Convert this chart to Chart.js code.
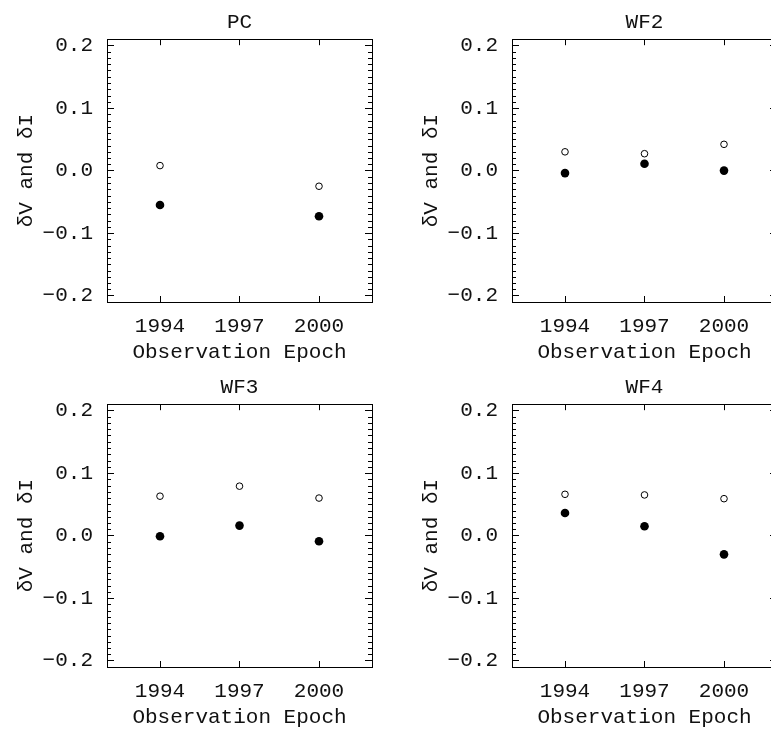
<!DOCTYPE html>
<html>
<head>
<meta charset="utf-8">
<title>δV and δI by observation epoch</title>
<script src="https://cdn.jsdelivr.net/npm/chart.js@4.4.1/dist/chart.umd.min.js"></script>
<style>
  html, body { margin: 0; padding: 0; background: #fff; overflow: hidden; }
  #page { position: relative; width: 771px; height: 731px; overflow: hidden; background: #fff; }
  #page canvas { position: absolute; }
</style>
</head>
<body>
<div id="page">
  <canvas id="chart-pc"  width="400" height="365" style="left:0;top:0"></canvas>
  <canvas id="chart-wf2" width="400" height="365" style="left:405px;top:0"></canvas>
  <canvas id="chart-wf3" width="400" height="365" style="left:0;top:365px"></canvas>
  <canvas id="chart-wf4" width="400" height="365" style="left:405px;top:365px"></canvas>
</div>
<script>
/* ════════════════════════════════════════════════════════════
   Four panels: δV (open) and δI (filled) per observation epoch
   ════════════════════════════════════════════════════════════ */

const epochs = [1994, 1997, 2000];
const epochTicks = [1994, 1997, 2000];
const deltaTicks = [-0.2, -0.1, 0.0, 0.1, 0.2];

// PC has no 1997 epoch
const pcOpen    = [0.008, null, -0.025];
const pcFilled  = [-0.055, null, -0.073];
const wf2Open   = [0.030, 0.027, 0.042];
const wf2Filled = [-0.004, 0.011, 0.000];
const wf3Open   = [0.063, 0.079, 0.060];
const wf3Filled = [-0.001, 0.016, -0.009];
const wf4Open   = [0.066, 0.065, 0.059];
const wf4Filled = [0.036, 0.015, -0.030];

const FONT = "'Liberation Mono', 'Courier New', monospace";
Chart.defaults.font.family = FONT;
Chart.defaults.font.size = 21;
Chart.defaults.color = '#111';

// small inward minor ticks on the y axis, ten per major interval
const minorTicks = {
    id: 'minorTicks',
    afterDraw(chart) {
        const { ctx, chartArea, scales } = chart;
        const y = scales.y;
        ctx.save();
        ctx.strokeStyle = '#000';
        ctx.lineWidth = 1;
        ctx.beginPath();
        for (let i = 0; i < deltaTicks.length - 1; i++) {
            const step = (deltaTicks[i + 1] - deltaTicks[i]) / 10;
            for (let k = 1; k < 10; k++) {
                const py = Math.round(y.getPixelForValue(deltaTicks[i] + step * k)) + 0.5;
                ctx.moveTo(chartArea.left, py);
                ctx.lineTo(chartArea.left + 4, py);
                ctx.moveTo(chartArea.right, py);
                ctx.lineTo(chartArea.right - 4, py);
            }
        }
        ctx.stroke();
        ctx.restore();
    }
};

function fmtDelta(v) {
    return (v < 0 ? '\u2212' : '') + Math.abs(v).toFixed(1);
}

function inwardGrid(len) {
    return {
        drawOnChartArea: false,
        drawTicks: true,
        tickLength: -len,
        tickColor: '#000',
        tickWidth: 1
    };
}

const border = { display: true, color: '#000', width: 1 };

function buildPanel(canvasId, title, openVals, filledVals) {
    const canvasEl = document.getElementById(canvasId);
    if (!canvasEl) return;
    const toPoints = vals => epochs.map((x, i) => ({ x: x, y: vals[i] }));
    const setEpochTicks = s => { s.ticks = epochTicks.map(v => ({ value: v })); };
    const setDeltaTicks = s => { s.ticks = deltaTicks.map(v => ({ value: v })); };

    return new Chart(canvasEl.getContext('2d'), {
        type: 'scatter',
        data: {
            datasets: [{
                label: 'δV',
                data: toPoints(openVals),
                pointRadius: 3.3,
                pointBackgroundColor: 'rgba(0,0,0,0)',
                pointBorderColor: '#000',
                pointBorderWidth: 1
            }, {
                label: 'δI',
                data: toPoints(filledVals),
                pointRadius: 4.3,
                pointBackgroundColor: '#000',
                pointBorderColor: '#000',
                pointBorderWidth: 0
            }]
        },
        options: {
            responsive: false,
            animation: false,
            devicePixelRatio: 1,
            layout: { padding: { left: 0, right: 28, top: 0, bottom: 0 } },
            plugins: {
                legend: { display: false },
                tooltip: { enabled: false },
                title: {
                    display: true,
                    fullSize: false,   // centre over the plot box, not the canvas
                    text: title,
                    color: '#111',
                    font: { family: FONT, size: 21, weight: 'normal' },
                    padding: { top: 10, bottom: 4 }
                }
            },
            scales: {
                x: {
                    type: 'linear',
                    position: 'bottom',
                    min: 1992,
                    max: 2002,
                    afterBuildTicks: setEpochTicks,
                    afterFit: s => { s.height = 63; s.paddingLeft = 0; s.paddingRight = 0; },
                    ticks: { padding: 18, maxRotation: 0, autoSkip: false, callback: v => String(v) },
                    grid: inwardGrid(6),
                    border: border,
                    title: {
                        display: true,
                        text: 'Observation Epoch',
                        padding: { top: 0, bottom: 0 }
                    }
                },
                x2: {
                    type: 'linear',
                    position: 'top',
                    min: 1992,
                    max: 2002,
                    afterBuildTicks: setEpochTicks,
                    afterFit: s => { s.height = 0; s.paddingLeft = 0; s.paddingRight = 0; },
                    ticks: { display: false },
                    grid: inwardGrid(6),
                    border: border
                },
                y: {
                    type: 'linear',
                    position: 'left',
                    min: -0.21,
                    max: 0.21,
                    afterBuildTicks: setDeltaTicks,
                    afterFit: s => { s.width = 107; s.paddingTop = 0; s.paddingBottom = 0; },
                    ticks: { padding: 21, autoSkip: false, callback: v => fmtDelta(v) },
                    grid: inwardGrid(7),
                    border: border,
                    title: {
                        display: true,
                        text: 'δV and δI',
                        padding: { top: 14, bottom: 0 }
                    }
                },
                y2: {
                    type: 'linear',
                    position: 'right',
                    min: -0.21,
                    max: 0.21,
                    afterBuildTicks: setDeltaTicks,
                    afterFit: s => { s.width = 0; s.paddingTop = 0; s.paddingBottom = 0; },
                    ticks: { display: false },
                    grid: inwardGrid(7),
                    border: border
                }
            }
        },
        plugins: [minorTicks]
    });
}

buildPanel('chart-pc',  'PC',  pcOpen,  pcFilled);
buildPanel('chart-wf2', 'WF2', wf2Open, wf2Filled);
buildPanel('chart-wf3', 'WF3', wf3Open, wf3Filled);
buildPanel('chart-wf4', 'WF4', wf4Open, wf4Filled);
</script>
</body>
</html>
